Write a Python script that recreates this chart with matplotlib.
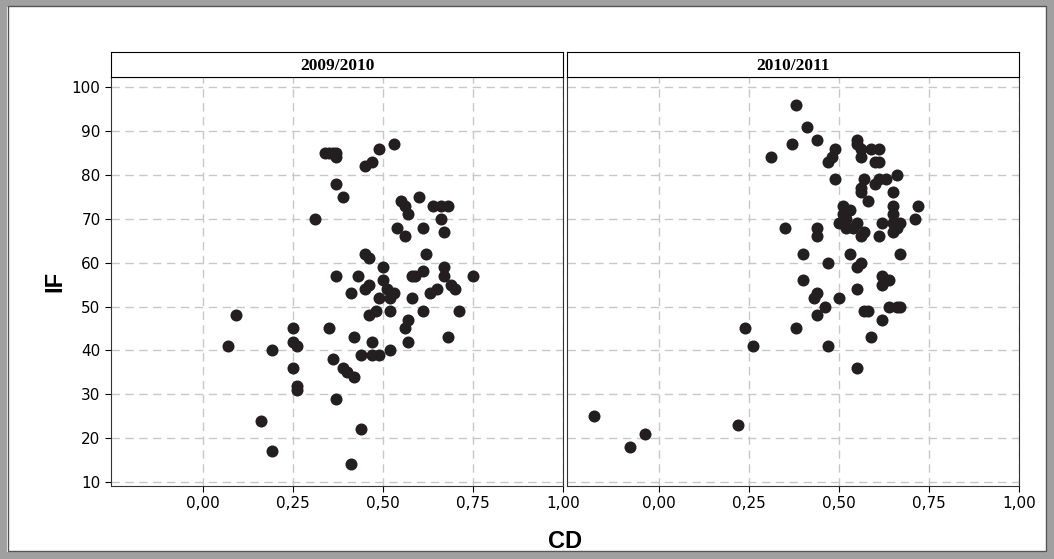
import matplotlib
matplotlib.use("Agg")
import matplotlib.pyplot as plt
from matplotlib.patches import Rectangle

# 2009/2010
cd_0910 = [0.07, 0.09, 0.16, 0.19, 0.19, 0.25, 0.25, 0.26, 0.25, 0.26, 0.26, 0.31, 0.34, 0.35,
           0.36, 0.37, 0.37, 0.37, 0.39, 0.35, 0.36, 0.37, 0.37, 0.39, 0.40, 0.41, 0.42, 0.43,
           0.42, 0.44, 0.44, 0.41, 0.45, 0.47, 0.49, 0.53, 0.45, 0.46, 0.46, 0.45, 0.47, 0.47,
           0.48, 0.49, 0.49, 0.50, 0.50, 0.51, 0.52, 0.52, 0.52, 0.53, 0.54, 0.55, 0.56, 0.56,
           0.57, 0.56, 0.57, 0.57, 0.58, 0.59, 0.60, 0.61, 0.61, 0.61, 0.62, 0.63, 0.65, 0.64,
           0.66, 0.66, 0.67, 0.68, 0.67, 0.67, 0.68, 0.69, 0.70, 0.71, 0.75, 0.58, 0.46]
if_0910 = [41, 48, 24, 17, 40, 45, 42, 41, 36, 32, 31, 70, 85, 85,
           85, 84, 85, 78, 75, 45, 38, 57, 29, 36, 35, 53, 43, 57,
           34, 39, 22, 14, 82, 83, 86, 87, 62, 61, 55, 54, 42, 39,
           49, 39, 52, 56, 59, 54, 52, 49, 40, 53, 68, 74, 73, 66,
           71, 45, 47, 42, 52, 57, 75, 68, 58, 49, 62, 53, 54, 73,
           73, 70, 67, 73, 59, 57, 43, 55, 54, 49, 57, 57, 48]

# 2010/2011
cd_1011 = [-0.18, -0.08, -0.04, 0.22, 0.24, 0.26, 0.31, 0.35, 0.37, 0.38, 0.38, 0.40, 0.40,
           0.41, 0.43, 0.44, 0.44, 0.44, 0.44, 0.44, 0.46, 0.47, 0.47, 0.47, 0.48, 0.49, 0.49,
           0.50, 0.50, 0.51, 0.51, 0.52, 0.52, 0.53, 0.53, 0.54, 0.55, 0.55, 0.55, 0.55, 0.55,
           0.55, 0.56, 0.56, 0.56, 0.56, 0.56, 0.56, 0.57, 0.57, 0.57, 0.58, 0.58, 0.59, 0.59,
           0.60, 0.60, 0.61, 0.61, 0.61, 0.61, 0.62, 0.62, 0.62, 0.62, 0.63, 0.64, 0.64, 0.65,
           0.65, 0.65, 0.65, 0.65, 0.66, 0.66, 0.66, 0.67, 0.67, 0.67, 0.71, 0.72]
if_1011 = [25, 18, 21, 23, 45, 41, 84, 68, 87, 96, 45, 62, 56,
           91, 52, 53, 88, 68, 66, 48, 50, 60, 41, 83, 84, 86, 79,
           69, 52, 73, 71, 70, 68, 62, 72, 68, 88, 87, 69, 59, 54,
           36, 84, 86, 77, 76, 66, 60, 79, 67, 49, 74, 49, 43, 86,
           83, 78, 86, 83, 66, 79, 47, 55, 57, 69, 79, 56, 50, 76,
           73, 71, 69, 67, 50, 68, 80, 69, 62, 50, 70, 73]

panels = [("2009/2010", cd_0910, if_0910), ("2010/2011", cd_1011, if_1011)]
xticks = [0, 0.25, 0.5, 0.75, 1.0]
xlabels = ["0,00", "0,25", "0,50", "0,75", "1,00"]

W, H = 1054, 559
fig = plt.figure(figsize=(W / 100, H / 100), dpi=100)
fig.patch.set_facecolor("white")
# outer grey frame
fig.patches.append(Rectangle((0, 0), 1, 1, transform=fig.transFigure, fill=False,
                             edgecolor="#a0a0a0", linewidth=10))
fig.patches.append(Rectangle((8 / W, 8 / H), 1 - 16 / W, 1 - 14 / H, transform=fig.transFigure,
                             fill=False, edgecolor="#555555", linewidth=1))

lefts = [111, 567]
pw = 452
top, bottom = 77, 486
for i, (title, xs, ys) in enumerate(panels):
    ax = fig.add_axes([lefts[i] / W, 1 - bottom / H, pw / W, (bottom - top) / H])
    ax.scatter(xs, ys, s=75, color="#231f20", zorder=3, linewidths=0)
    ax.set_xlim(-0.256, 1.0)
    ax.set_ylim(9.1, 102.3)
    ax.set_xticks(xticks)
    ax.set_xticklabels(xlabels, fontsize=11)
    ax.set_yticks(range(10, 101, 10))
    ax.grid(True, color="#c8c8c8", linestyle=(0, (6, 4)), linewidth=1)
    ax.tick_params(length=4, color="black")
    if i == 0:
        ax.tick_params(axis="y", labelsize=11)
        ax.set_ylabel("IF", fontsize=17, fontweight="bold", family="Liberation Sans")
    else:
        ax.tick_params(axis="y", left=False, labelleft=False)
    for s in ax.spines.values():
        s.set_color("#333333")
    # strip title
    sax = fig.add_axes([lefts[i] / W, 1 - top / H, pw / W, 25 / H])
    sax.set_xticks([])
    sax.set_yticks([])
    sax.text(0.5, 0.45, title, ha="center", va="center", fontsize=12.5, fontweight="bold",
             family="Liberation Serif", transform=sax.transAxes)

fig.text((111 + 1019) / 2 / W, 1 - 541 / H, "CD", ha="center", va="center", fontsize=17,
         fontweight="bold", family="Liberation Sans")

fig.savefig("out.png", dpi=100)
